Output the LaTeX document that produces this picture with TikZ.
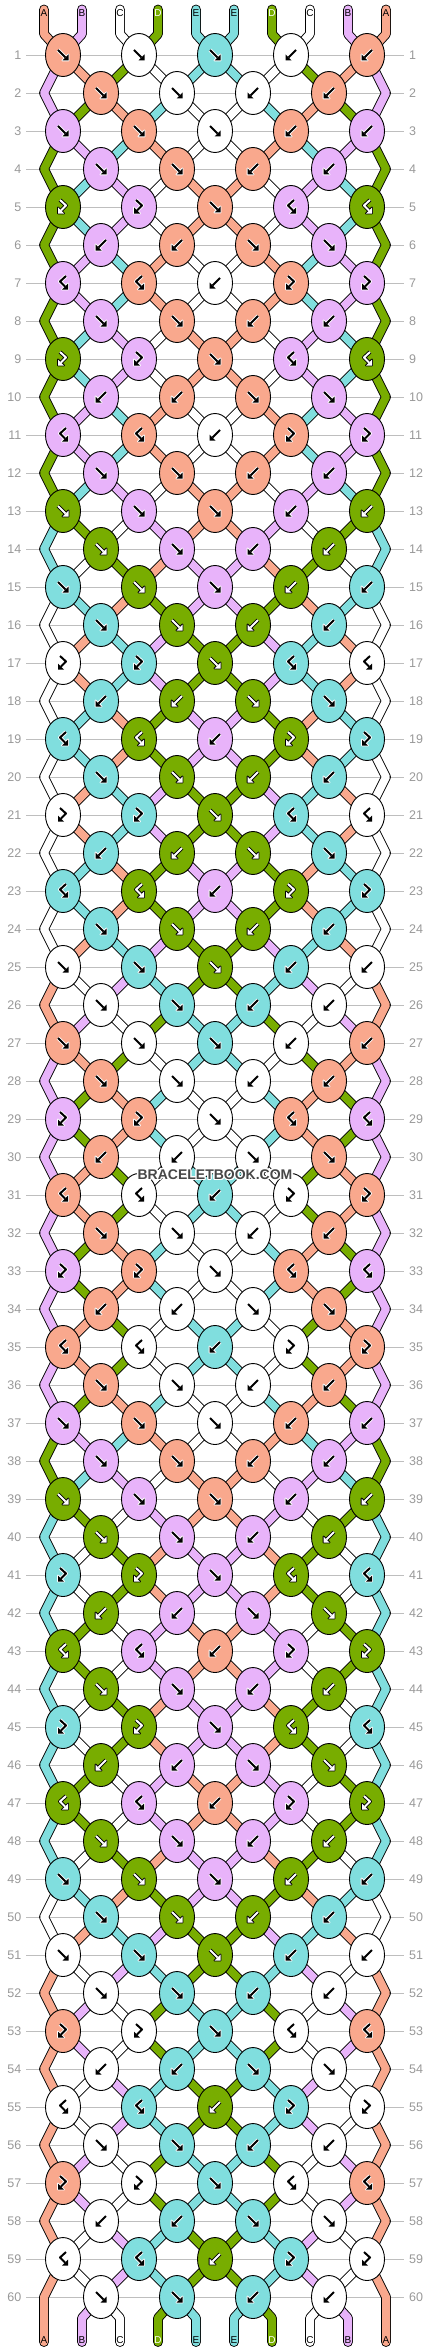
\documentclass[tikz,border=0pt]{standalone}
\usepackage{fontspec}
\setmainfont{Liberation Sans}
\usepackage[copies]{contour}
\contourlength{1.2pt}
\usetikzlibrary{shapes.geometric}

\definecolor{colA}{HTML}{F9A88D}
\definecolor{colB}{HTML}{E8B3FA}
\definecolor{colC}{HTML}{FFFFFF}
\definecolor{colD}{HTML}{78AD00}
\definecolor{colE}{HTML}{80DEDE}
\definecolor{rulegray}{HTML}{BEBEBE}
\definecolor{numgray}{HTML}{999999}
\definecolor{markgray}{HTML}{474747}

% knot type: colour taken from left string? strings cross?
\def\leftf{1}\def\leftfb{1}\def\leftb{0}\def\leftbf{0}
\def\swapf{1}\def\swapb{1}\def\swapfb{0}\def\swapbf{0}
\def\letterD{D}

% knot types, row by row
\def\knotrows{%
  {f,f,f,b,b},{f,f,b,b},{f,f,f,b,b},{f,f,b,b},{fb,fb,f,bf,bf},% 1-5
  {b,b,f,f},{bf,bf,b,fb,fb},{f,f,b,b},{fb,fb,f,bf,bf},{b,b,f,f},% 6-10
  {bf,bf,b,fb,fb},{f,f,b,b},{f,f,f,b,b},{f,f,b,b},{f,f,f,b,b},% 11-15
  {f,f,b,b},{fb,fb,f,bf,bf},{b,b,f,f},{bf,bf,b,fb,fb},{f,f,b,b},% 16-20
  {fb,fb,f,bf,bf},{b,b,f,f},{bf,bf,b,fb,fb},{f,f,b,b},{f,f,f,b,b},% 21-25
  {f,f,b,b},{f,f,f,b,b},{f,f,b,b},{fb,fb,f,bf,bf},{b,b,f,f},% 26-30
  {bf,bf,b,fb,fb},{f,f,b,b},{fb,fb,f,bf,bf},{b,b,f,f},{bf,bf,b,fb,fb},% 31-35
  {f,f,b,b},{f,f,f,b,b},{f,f,b,b},{f,f,f,b,b},{f,f,b,b},% 36-40
  {fb,fb,f,bf,bf},{b,b,f,f},{bf,bf,b,fb,fb},{f,f,b,b},{fb,fb,f,bf,bf},% 41-45
  {b,b,f,f},{bf,bf,b,fb,fb},{f,f,b,b},{f,f,f,b,b},{f,f,b,b},% 46-50
  {f,f,f,b,b},{f,f,b,b},{fb,fb,f,bf,bf},{b,b,f,f},{bf,bf,b,fb,fb},% 51-55
  {f,f,b,b},{fb,fb,f,bf,bf},{b,b,f,f},{bf,bf,b,fb,fb},{f,f,b,b}}% 56-60

% arrow signs in the knots (#1 outline, #2 arrow)
\newcommand\straightglyph[2]{%
  \draw[#1, line width=3.8pt] (-5,-5) -- (2.5,2.5);
  \filldraw[#1, line width=1.8pt, line join=round] (5.5,5.5) -- (5.5,-0.5) -- (-0.5,5.5) -- cycle;
  \draw[#2, line width=2pt] (-5,-5) -- (2.5,2.5);
  \fill[#2] (5.5,5.5) -- (5.5,-0.5) -- (-0.5,5.5) -- cycle;}
\newcommand\hookglyph[2]{%
  \draw[#1, line width=3.8pt, line join=round] (-3,-7) -- (3,-1.5) -- (-2,3.5);
  \filldraw[#1, line width=1.8pt, line join=round] (-5,6.5) -- (-5,0.5) -- (1,6.5) -- cycle;
  \draw[#2, line width=2pt, line join=round] (-3,-7) -- (3,-1.5) -- (-2,3.5);
  \fill[#2] (-5,6.5) -- (-5,0.5) -- (1,6.5) -- cycle;}
\newcommand\glyphf[2]{\straightglyph{#1}{#2}}
\newcommand\glyphb[2]{\begin{scope}[xscale=-1]\straightglyph{#1}{#2}\end{scope}}
\newcommand\glyphfb[2]{\hookglyph{#1}{#2}}
\newcommand\glyphbf[2]{\begin{scope}[xscale=-1]\hookglyph{#1}{#2}\end{scope}}

% one string piece from the row before to this row
\newcommand\bandfor[2]{%
  \pgfmathtruncatemacro\isedge{and(\odd==1,or(#1==1,#1==10))}%
  \ifnum\r=1
    \draw[band=col#2] (t-#1) -- (tb-#1) -- (p-1-#1);
  \else
    \ifnum\isedge=1
      \draw[band=col#2] (p-\pprev-#1) -- (p-\prev-#1) -- (p-\r-#1);
    \else
      \draw[band=col#2] (p-\prev-#1) -- (p-\r-#1);
    \fi
  \fi}

\begin{document}
\begin{tikzpicture}[x=1pt, y=-1pt,
    band/.style={draw=black, line width=0.9pt, double=#1, double distance=8pt,
      line cap=round, line join=round},
    knot/.style={ellipse, draw=black, line width=0.9pt, minimum width=35pt,
      minimum height=43pt, inner sep=0pt},
    rownum/.style={text=numgray, inner sep=0pt, font=\fontsize{12.5}{12.5}\selectfont},
    endlabel/.style={inner sep=0pt, font=\fontsize{10}{10}\selectfont},
    rowrule/.style={draw=rulegray, line width=0.9pt}]
\useasboundingbox (0,0) rectangle (430,2352);
\fill[white] (0,0) rectangle (430,2352);

% row lines and numbers
\foreach \r in {1,...,60} {
  \pgfmathsetmacro\y{55+38*(\r-1)}
  \draw[rowrule] (26,\y) -- (404,\y);
  \node[rownum, anchor=east] (nl-\r) at (21.5,\y) {\r};
  \node[rownum, anchor=west] (nr-\r) at (409,\y) {\r};
}

% strings at the top
\foreach \l [count=\p] in {A,B,C,D,E,E,D,C,B,A} {
  \expandafter\xdef\csname s\p\endcsname{\l}
  \pgfmathsetmacro\sx{44+38*(\p-1)}
  \coordinate (t-\p) at (\sx,9.5);
  \coordinate (tb-\p) at (\sx,34);
}

% first pass: follow the strings and draw them
\foreach \types [count=\r] in \knotrows {
  \pgfmathtruncatemacro\odd{mod(\r,2)}
  \pgfmathsetmacro\y{55+38*(\r-1)}
  \pgfmathtruncatemacro\prev{\r-1}
  \pgfmathtruncatemacro\pprev{\r-2}
  \ifnum\odd=0
    \coordinate (p-\r-1) at (44,\y);
    \coordinate (p-\r-10) at (386,\y);
  \fi
  \foreach \t [count=\k] in \types {
    \ifnum\odd=1
      \pgfmathtruncatemacro\pl{2*\k-1}
      \pgfmathsetmacro\kx{63+76*(\k-1)}
    \else
      \pgfmathtruncatemacro\pl{2*\k}
      \pgfmathsetmacro\kx{101+76*(\k-1)}
    \fi
    \pgfmathtruncatemacro\pr{\pl+1}
    \edef\L{\csname s\pl\endcsname}
    \edef\R{\csname s\pr\endcsname}
    \ifnum\csname left\t\endcsname=1
      \expandafter\xdef\csname kc-\r-\k\endcsname{\L}
    \else
      \expandafter\xdef\csname kc-\r-\k\endcsname{\R}
    \fi
    \coordinate (p-\r-\pl) at (\kx,\y);
    \coordinate (p-\r-\pr) at (\kx,\y);
    \bandfor{\pl}{\L}
    \bandfor{\pr}{\R}
    \ifnum\csname swap\t\endcsname=1
      \expandafter\xdef\csname s\pl\endcsname{\R}
      \expandafter\xdef\csname s\pr\endcsname{\L}
    \fi
  }
}

% strings at the bottom
\foreach \p in {1,...,10} {
  \pgfmathsetmacro\sx{44+38*(\p-1)}
  \edef\l{\csname s\p\endcsname}
  \coordinate (bb-\p) at (\sx,2318);
  \coordinate (be-\p) at (\sx,2342);
  \ifnum\p=1
    \draw[band=col\l] (p-59-\p) -- (p-60-\p) -- (be-\p);
  \else\ifnum\p=10
    \draw[band=col\l] (p-59-\p) -- (p-60-\p) -- (be-\p);
  \else
    \draw[band=col\l] (p-60-\p) -- (bb-\p) -- (be-\p);
  \fi\fi
  \ifx\l\letterD
    \node[endlabel, text=white] (lb-\p) at (\sx,2340) {\l};
  \else
    \node[endlabel, text=black] (lb-\p) at (\sx,2340) {\l};
  \fi
}

% second pass: the knots
\foreach \types [count=\r] in \knotrows {
  \pgfmathtruncatemacro\odd{mod(\r,2)}
  \foreach \t [count=\k] in \types {
    \edef\kc{\csname kc-\r-\k\endcsname}
    \node[knot, fill=col\kc] (k-\r-\k) at (p-\r-\ifnum\odd=1 \the\numexpr2*\k-1\relax\else\the\numexpr2*\k\relax\fi) {};
    \begin{scope}[shift={(k-\r-\k.center)}]
      \ifx\kc\letterD
        \csname glyph\t\endcsname{black}{white}
      \else
        \csname glyph\t\endcsname{white}{black}
      \fi
    \end{scope}
  }
}

% labels at the top
\foreach \l [count=\p] in {A,B,C,D,E,E,D,C,B,A} {
  \pgfmathsetmacro\sx{44+38*(\p-1)}
  \ifx\l\letterD
    \node[endlabel, text=white] (lt-\p) at (\sx,13) {\l};
  \else
    \node[endlabel, text=black] (lt-\p) at (\sx,13) {\l};
  \fi
}

\node[text=markgray, inner sep=1pt, font=\bfseries\fontsize{14}{14}\selectfont]
  (mark) at (215,1175) {\contour{white}{BRACELETBOOK.COM}};
\end{tikzpicture}
\end{document}
